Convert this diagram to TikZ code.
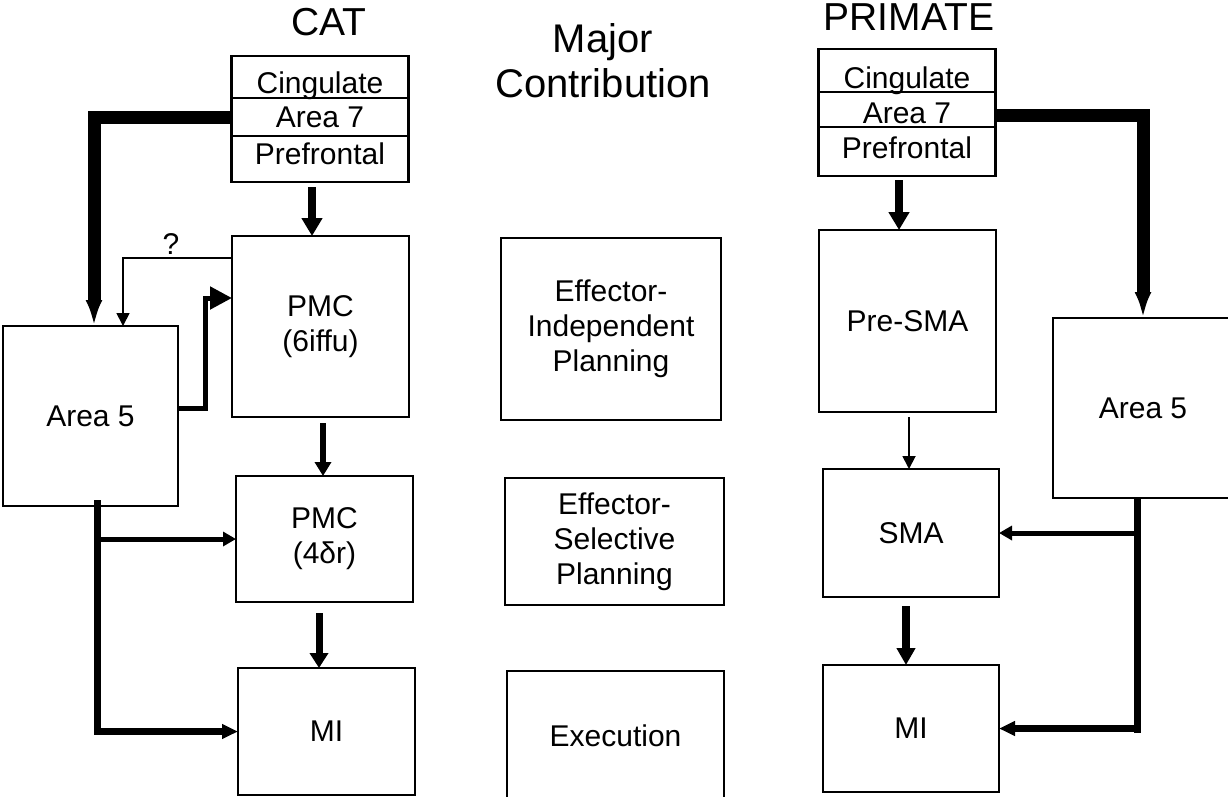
\documentclass[tikz,border=0pt]{standalone}
\usepackage{fontspec}
\setmainfont{Liberation Sans}
\usetikzlibrary{arrows.meta,positioning}

\begin{document}
\begin{tikzpicture}[
  x=1pt, y=-1pt,
  font=\fontsize{30}{35}\selectfont,
  box/.style={draw, line width=2.2pt, inner sep=0pt, outer sep=0pt, align=center},
  row/.style={box, minimum width=177pt},
  title/.style={font=\fontsize{39}{45}\selectfont, anchor=base},
  fat/.style={line width=13pt, -{Latex[length=26pt,width=17pt]}},
  heavy/.style={line width=8pt, -{Triangle[length=18pt,width=20pt]}},
  thin/.style={line width=1.8pt, -{Triangle[length=13pt,width=13pt]}},
  branch/.style={line width=5pt, -{Triangle[length=13pt,width=14pt]}},
  trunk/.style={line width=7pt}
]
\useasboundingbox (0,0) rectangle (1228,796);
\clip (0,0) rectangle (1228,796);

% Cat column
\node[title] (cat) at (329,35) {CAT};
\node[row, minimum height=42pt, text height=37pt, text depth=5pt] (cingC) at (320,77) {Cingulate};
\node[row, minimum height=38pt, below=0pt of cingC] (areaSevenC) {Area 7};
\node[row, minimum height=46pt, text height=22pt, text depth=12pt, below=0pt of areaSevenC] (prefC) {Prefrontal};

\node[box, minimum width=177pt, minimum height=181pt] (pmcA) at (320.5,326.5) {PMC\\(6iffu)};
\node[box, minimum width=175pt, minimum height=180pt] (areaFiveC) at (90.5,416) {Area 5};
\node[box, minimum width=177pt, minimum height=126pt] (pmcB) at (324.5,539) {PMC\\(4δr)};
\node[box, minimum width=177pt, minimum height=127pt] (miC) at (326.5,731.5) {MI};

\draw[fat] (areaSevenC.west) -| ([xshift=3.5pt]areaFiveC.north);
\draw[heavy, shorten <=5pt] ([xshift=-8pt]prefC.south) -- ([xshift=-8.5pt]pmcA.north);
\draw[thin] ([yshift=68.5pt]pmcA.west) -| node[pos=0.28, above=-1pt] {?}
  ([xshift=32.5pt]areaFiveC.north);
\draw[line width=5pt, -{Triangle[length=22pt,width=22pt]}] ([yshift=8pt]areaFiveC.east)
  -- ++(27,0) |- ([yshift=28.5pt]pmcA.west);
\draw[line width=6pt, -{Triangle[length=14pt,width=16pt]}, shorten <=6pt]
  ([xshift=2.5pt]pmcA.south) -- ([xshift=-1.5pt]pmcB.north);
\draw[line width=7pt, -{Triangle[length=15pt,width=18pt]}, shorten <=11pt]
  ([xshift=-5.5pt]pmcB.south) -- ([xshift=-7.5pt]miC.north);

% Area 5 output, cat
\coordinate (trunkC) at (97,735);
\draw[trunk, shorten <=-6pt] ([xshift=6.5pt]areaFiveC.south) -- (trunkC);
\draw[branch] (trunkC |- pmcB.west) -- (pmcB.west);
\draw[line width=6.5pt, -{Triangle[length=16pt,width=14pt]}] (trunkC |- miC.west) -- (miC.west);

% Middle column
\node[font=\fontsize{40}{45}\selectfont, align=center] (major) at (603,61) {Major\\Contribution};
\node[box, minimum width=220pt, minimum height=182pt] (effInd) at (611,329) {Effector-\\Independent\\Planning};
\node[box, minimum width=219pt, minimum height=127pt] (effSel) at (614.5,541.5) {Effector-\\Selective\\Planning};
\node[box, minimum width=217pt, minimum height=130pt] (exec) at (615.5,736) {Execution};

% Primate column
\node[title] (primate) at (909,30) {PRIMATE};
\node[row, minimum height=43pt, text height=39pt, text depth=4pt] (cingP) at (907,70.5) {Cingulate};
\node[row, minimum height=35pt, text height=27pt, text depth=0pt, below=0pt of cingP] (areaSevenP) {Area 7};
\node[row, minimum height=49pt, text height=22pt, text depth=9pt, below=0pt of areaSevenP] (prefP) {Prefrontal};

\node[box, minimum width=177pt, minimum height=182pt] (preSMA) at (907.5,321) {Pre-SMA};
\node[box, minimum width=180pt, minimum height=180pt] (areaFiveP) at (1143,408) {Area 5};
\node[box, minimum width=176pt, minimum height=128pt] (sma) at (911,533) {SMA};
\node[box, minimum width=176pt, minimum height=127pt] (miP) at (911,728.5) {MI};

\draw[fat] ([yshift=-5.5pt]areaSevenP.east) -| (areaFiveP.north);
\draw[heavy, shorten <=4pt] ([xshift=-8pt]prefP.south) -- ([xshift=-8.5pt]preSMA.north);
\draw[thin, shorten <=5pt] ([xshift=1.5pt]preSMA.south) -- ([xshift=-2pt]sma.north);
\draw[line width=8pt, -{Triangle[length=17pt,width=18pt]}, shorten <=9pt]
  ([xshift=-5pt]sma.south) -- ([xshift=-5pt]miP.north);

% Area 5 output, primate
\coordinate (trunkP) at (1137,733);
\draw[trunk, shorten <=-1pt] ([xshift=-6pt]areaFiveP.south) -- (trunkP);
\draw[branch] (trunkP |- sma.east) -- (sma.east);
\draw[line width=6.5pt, -{Triangle[length=16pt,width=14pt]}] (trunkP |- miP.east) -- (miP.east);

\end{tikzpicture}
\end{document}
